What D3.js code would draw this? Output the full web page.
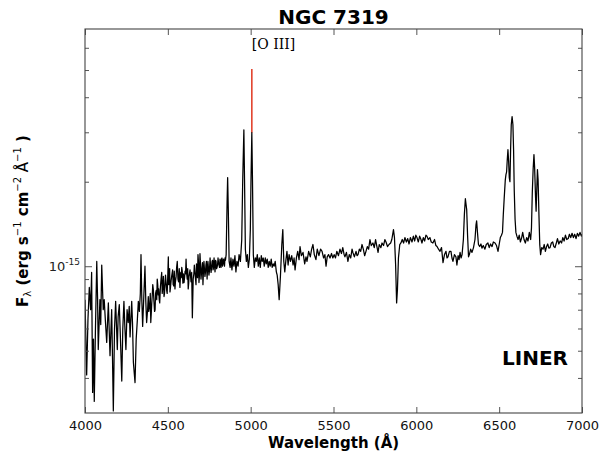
<!DOCTYPE html>
<html><head><meta charset="utf-8">
<script src="https://cdn.jsdelivr.net/npm/d3@7"></script>
<style>body{margin:0;background:#fff} svg{display:block}</style>
</head><body>
<svg id="chart" width="600" height="455"></svg>
<script>
// ---------- data ----------
const FLUX_UNIT = 1e-16;            // flux values below are in units of 1e-16 erg/s/cm^2/Å
const title = "NGC 7319";
const classLabel = "LINER";
// [wavelength (Å), flux (1e-16)]
const spectrum = [
[4000,7.6],[4005,5.6],[4010,4.1],[4018,6.5],[4026,8.4],[4034,7.0],[4040,9.5],[4046,3.55],[4051,5.5],[4056,3.3],
[4063,5.95],[4071,10.4],[4076,7.6],[4080,5.05],[4090,7.6],[4095,6.2],[4101,10.1],[4110,7.0],[4116,7.6],[4123,6.4],
[4131,5.35],[4141,7.4],[4151,4.8],[4161,7.0],[4166,4.7],[4171,3.05],[4178,5.95],[4185,7.5],[4195,5.05],[4200,6.6],
[4207,7.3],[4214,5.5],[4222,3.9],[4228,5.95],[4235,7.5],[4241,6.0],[4247,5.05],[4254,7.0],[4261,6.3],[4267,7.2],
[4272,5.6],[4282,7.5],[4287,6.2],[4292,4.55],[4302,3.85],[4309,5.5],[4316,6.45],[4322,7.5],[4328,6.9],[4334,8.0],
[4338,11.0],[4343,7.6],[4348,6.1],[4355,7.8],[4362,10.0],[4367,7.5],[4372,6.3],[4378,7.0],[4382,7.8],[4390,7.2],
[4397,6.3],[4403,7.4],[4409,8.6],[4416,7.5],[4423,7.0],[4430,8.2],[4436,9.0],[4442,7.9],[4448,7.6],[4455,8.4],
[4463,9.5],[4470,8.5],[4477,7.8],[4483,8.7],[4489,8.8],[4496,8.0],[4503,10.8],[4508,9.0],[4513,8.1],[4520,8.9],
[4529,9.7],[4536,8.5],[4543,8.3],[4550,9.2],[4557,10.4],[4565,8.8],[4573,8.4],[4578,9.5],[4584,9.9],[4591,8.7],
[4598,8.75],[4604,9.6],[4610,10.6],[4617,9.0],[4623,8.3],[4628,9.2],[4634,9.7],[4640,8.8],[4648,6.55],[4653,9.0],
[4660,10.1],[4670,8.6],[4676,9.7],[4682,11.0],[4688,8.75],[4694,11.1],[4700,9.0],[4706,9.9],[4712,8.6],[4718,10.4],
[4724,9.2],[4730,10.1],[4737,9.0],[4742,10.4],[4748,9.3],[4755,10.7],[4761,9.5],[4767,10.4],[4773,9.7],[4779,10.7],
[4785,9.55],[4791,10.4],[4797,9.9],[4803,10.7],[4809,10.1],[4815,10.6],[4821,9.9],[4827,10.7],[4833,10.2],[4839,10.4],
[4845,10.7],[4852,11.0],[4858,17.3],[4861,20.7],[4865,15.9],[4870,10.4],[4876,9.9],[4881,10.7],[4887,9.7],[4893,10.6],
[4899,10.0],[4905,10.9],[4911,9.55],[4917,10.4],[4924,10.0],[4930,11.0],[4938,10.4],[4946,12.4],[4952,20.3],[4959,30.6],
[4963,20.3],[4968,11.5],[4974,10.4],[4980,11.0],[4986,9.9],[4992,10.6],[4998,13.5],[5002,20.3],[5007,29.9],[5011,20.3],
[5016,11.0],[5022,9.9],[5028,10.7],[5034,10.4],[5040,11.0],[5046,10.0],[5052,10.7],[5058,9.9],[5064,10.9],[5070,10.4],
[5076,10.7],[5082,10.0],[5088,10.7],[5094,10.2],[5100,10.6],[5106,9.9],[5112,10.4],[5118,10.0],[5124,10.6],[5130,9.9],
[5136,10.2],[5142,10.0],[5148,10.4],[5155,9.55],[5160,9.3],[5166,8.6],[5172,7.6],[5180,9.3],[5188,11.95],[5194,13.5],
[5200,10.4],[5206,9.55],[5213,10.56],[5219,11.3],[5226,10.1],[5232,11.0],[5240,10.4],[5248,10.9],[5256,10.1],[5262,10.7],
[5268,9.7],[5276,10.7],[5284,11.3],[5292,10.56],[5298,11.75],[5306,10.9],[5316,11.2],[5326,10.2],[5334,10.8],[5340,10.4],
[5350,11.3],[5360,10.8],[5368,11.5],[5376,11.95],[5384,11.0],[5394,10.56],[5402,11.5],[5412,10.9],[5422,11.5],[5431,11.3],
[5440,10.7],[5448,11.0],[5455,10.0],[5462,10.8],[5470,11.0],[5479,10.7],[5488,11.1],[5496,10.7],[5504,11.0],[5512,10.7],
[5520,11.3],[5530,10.9],[5539,11.5],[5548,11.1],[5556,11.65],[5564,11.0],[5569,10.8],[5578,11.2],[5587,10.4],[5595,11.0],
[5604,10.7],[5612,11.5],[5617,11.2],[5626,10.8],[5636,11.3],[5642,10.9],[5648,11.0],[5656,11.5],[5664,11.3],[5672,11.95],
[5680,11.5],[5688,10.9],[5696,11.3],[5704,11.75],[5712,11.5],[5720,12.45],[5728,11.85],[5738,12.1],[5746,11.65],[5754,12.45],
[5762,11.75],[5769,11.2],[5776,11.95],[5786,11.65],[5793,12.1],[5802,11.85],[5810,12.45],[5817,12.2],[5826,11.75],[5835,11.95],
[5845,12.1],[5852,12.45],[5862,13.5],[5868,12.65],[5875,10.1],[5881,7.4],[5886,8.26],[5892,10.7],[5900,11.95],[5907,12.1],
[5915,12.45],[5923,12.1],[5931,12.65],[5940,12.2],[5948,12.55],[5956,12.0],[5964,12.65],[5974,12.2],[5982,12.8],[5990,12.3],
[5997,12.9],[6004,12.65],[6012,12.2],[6020,12.8],[6028,12.45],[6034,12.1],[6042,12.65],[6050,12.3],[6058,12.9],[6064,12.8],
[6072,12.45],[6082,12.65],[6090,12.2],[6100,12.1],[6110,12.45],[6118,11.85],[6125,11.75],[6134,11.5],[6143,11.3],[6152,11.65],
[6161,10.3],[6170,11.0],[6179,11.3],[6185,10.7],[6191,10.8],[6200,11.3],[6209,11.3],[6215,10.7],[6221,10.4],[6230,11.0],
[6239,10.8],[6245,10.1],[6252,10.9],[6258,10.56],[6264,11.2],[6270,10.7],[6276,11.0],[6284,12.45],[6290,15.3],[6296,17.4],
[6300,16.6],[6304,15.9],[6309,13.0],[6315,10.8],[6320,11.0],[6328,11.5],[6336,11.2],[6345,11.65],[6354,12.45],[6360,14.0],
[6364,14.5],[6369,13.2],[6375,11.95],[6382,11.75],[6390,12.0],[6396,11.6],[6404,11.85],[6414,11.5],[6422,11.95],[6432,12.1],
[6440,11.65],[6448,12.0],[6457,11.75],[6465,12.2],[6475,12.1],[6484,11.85],[6493,11.3],[6500,11.95],[6507,12.65],[6514,12.9],
[6520,13.2],[6525,15.3],[6530,17.3],[6537,20.3],[6541,21.2],[6545,21.7],[6549,24.0],[6553,26.0],[6557,23.7],[6561,20.7],
[6565,20.0],[6569,26.0],[6573,31.9],[6578,34.1],[6583,31.9],[6587,26.0],[6591,18.7],[6596,14.7],[6601,13.2],[6607,12.8],
[6614,12.45],[6621,12.9],[6628,12.2],[6636,12.65],[6642,13.2],[6650,12.45],[6658,12.1],[6666,12.65],[6674,12.3],[6682,13.2],
[6690,12.45],[6695,13.7],[6700,18.3],[6705,22.1],[6710,25.0],[6714,22.5],[6719,18.0],[6723,15.7],[6727,18.7],[6731,22.1],
[6735,20.3],[6740,15.3],[6745,11.95],[6750,11.0],[6757,11.65],[6765,11.5],[6772,11.95],[6779,11.3],[6786,11.75],[6793,12.0],
[6800,11.6],[6807,11.65],[6815,12.1],[6823,12.2],[6830,11.75],[6837,11.65],[6845,12.1],[6852,12.55],[6860,12.0],[6868,12.3],
[6877,12.1],[6884,12.65],[6892,12.3],[6900,12.9],[6908,12.45],[6917,12.55],[6924,13.0],[6932,12.65],[6940,13.1],[6948,12.65],
[6956,13.0],[6964,12.55],[6972,13.1],[6980,12.8],[6988,13.2],[6996,12.8],[7000,13.0]
];
// extra fine-scale readings in the noisy blue continuum (merged with the above by wavelength)
const spectrumFine = [
[4385,6.9],[4394,8.0],[4400,6.8],[4406,7.9],[4413,8.2],[4420,6.9],[4426,8.0],[4433,7.6],[4439,8.6],[4445,8.3],
[4451,7.4],[4459,9.0],[4466,8.0],[4473,9.2],[4480,8.0],[4486,9.3],[4493,8.2],[4500,9.4],[4505,8.6],[4511,9.8],
[4516,8.4],[4524,9.3],[4532,8.6],[4539,9.6],[4546,8.8],[4553,9.9],[4561,9.0],[4569,9.8],[4575,8.9],[4581,9.1],
[4587,9.6],[4594,9.4],[4601,9.1],[4607,9.4],[4613,9.5],[4620,9.8],[4626,8.7],[4644,9.5],[4657,9.4],[4665,9.3],
[4673,10.2],[4679,9.1],[4685,10.3],[4691,9.3],[4697,10.2],[4703,9.4],[4709,10.3],[4715,9.6],[4721,9.8],[4727,9.5],
[4733,10.4],[4739,9.6],[4745,9.9],[4751,9.6],[4758,10.0],[4764,9.9],[4770,10.5],[4776,9.9],[4782,10.0],[4788,10.5],
[4794,9.8],[4800,10.1],[4806,10.3],[4812,9.9],[4818,10.2],[4824,10.6],[4830,10.0],[4836,10.6],[4842,10.0],[4848,10.5]
];
const markerLambda = 5007;
const markerFlux = [29.9, 50.4];   // 1e-16 units: red segment of [O III] 5007
const markerLabel = "[O III]";
const xTicks = [4000, 4500, 5000, 5500, 6000, 6500, 7000];
const yMajorTicks = [1e-15];
const yMinorTicks = [4e-16, 5e-16, 6e-16, 7e-16, 8e-16, 9e-16, 2e-15, 3e-15, 4e-15, 5e-15, 6e-15];
const xDomain = [4000, 7000];
const yDomain = [3e-16, 7e-15];

// ---------- layout ----------
const W = 600, H = 455;
const m = {left: 85, right: 18, top: 29, bottom: 42};
const iw = W - m.left - m.right, ih = H - m.top - m.bottom;
const svg = d3.select("#chart");
const font = "'DejaVu Sans', 'Bitstream Vera Sans', sans-serif";

const x = d3.scaleLinear().domain(xDomain).range([m.left, m.left + iw]);
const y = d3.scaleLog().domain(yDomain).range([m.top + ih, m.top]);

const specData = d3.sort(spectrum.concat(spectrumFine), d => d[0]);

svg.append("defs").append("clipPath").attr("id", "clip")
  .append("rect").attr("x", m.left).attr("y", m.top).attr("width", iw).attr("height", ih);

// [O III] marker (under the spectrum)
svg.append("line")
  .attr("x1", x(markerLambda)).attr("x2", x(markerLambda))
  .attr("y1", y(markerFlux[0] * FLUX_UNIT)).attr("y2", y(markerFlux[1] * FLUX_UNIT))
  .attr("stroke", "#e2432e").attr("stroke-width", 1.6);

// spectrum
const line = d3.line().x(d => x(d[0])).y(d => y(d[1] * FLUX_UNIT));
svg.append("path").datum(specData)
  .attr("clip-path", "url(#clip)")
  .attr("d", line).attr("fill", "none")
  .attr("stroke", "#000").attr("stroke-width", 1.25).attr("stroke-linejoin", "round");

// axes
const tickColor = "#555";
function styleAxis(g) {
  g.select(".domain").remove();
  g.selectAll(".tick line").attr("stroke", tickColor);
  g.selectAll(".tick text").attr("fill", "#111").style("font-family", font).style("font-size", "13px");
}
svg.append("g").attr("transform", `translate(0,${m.top + ih})`)
  .call(d3.axisBottom(x).tickValues(xTicks).tickSize(-6).tickPadding(8).tickFormat(d3.format("d")))
  .call(styleAxis);
svg.append("g").attr("transform", `translate(0,${m.top})`)
  .call(d3.axisTop(x).tickValues(xTicks).tickSize(-6).tickFormat(""))
  .call(styleAxis);
[[d3.axisLeft, m.left], [d3.axisRight, m.left + iw]].forEach(([ax, tx]) => {
  svg.append("g").attr("transform", `translate(${tx},0)`)
    .call(ax(y).tickValues(yMajorTicks).tickSize(-7).tickFormat("")).call(styleAxis);
  svg.append("g").attr("transform", `translate(${tx},0)`)
    .call(ax(y).tickValues(yMinorTicks).tickSize(-4).tickFormat("")).call(styleAxis);
});

// frame
svg.append("rect").attr("x", m.left).attr("y", m.top).attr("width", iw).attr("height", ih)
  .attr("fill", "none").attr("stroke", "#444").attr("stroke-width", 1.1);

// y major tick label 10^-15
yMajorTicks.forEach(v => {
  const exp = Math.round(Math.log10(v));
  const t = svg.append("text").attr("x", m.left - 5).attr("y", y(v) + 5)
    .attr("text-anchor", "end").style("font-family", font).style("font-size", "13px").attr("fill", "#222");
  t.append("tspan").text("10");
  t.append("tspan").attr("dy", -6).style("font-size", "9px").text(String(exp));
});

// title
svg.append("text").attr("x", m.left + iw / 2).attr("y", 24).attr("text-anchor", "middle")
  .style("font-family", font).style("font-size", "20px").style("font-weight", "bold").text(title);

// x label
svg.append("text").attr("x", m.left + iw / 2).attr("y", 448).attr("text-anchor", "middle")
  .style("font-family", font).style("font-size", "15px").style("font-weight", "bold").text("Wavelength (Å)");

// y label
const yl = svg.append("text").attr("transform", `translate(28,${m.top + ih / 2}) rotate(-90)`)
  .attr("text-anchor", "middle").style("font-family", font).style("font-size", "15px").style("font-weight", "bold");
yl.append("tspan").text("F");
yl.append("tspan").attr("dy", 3).style("font-size", "10px").style("font-weight", "normal").text("λ");
yl.append("tspan").attr("dy", -3).text(" (erg s");
yl.append("tspan").attr("dy", -7).style("font-size", "10px").style("font-weight", "normal").text("−1");
yl.append("tspan").attr("dy", 7).text(" cm");
yl.append("tspan").attr("dy", -7).style("font-size", "10px").style("font-weight", "normal").text("−2");
yl.append("tspan").attr("dy", 7).style("font-weight", "normal").text(" Å");
yl.append("tspan").attr("dy", -7).style("font-size", "10px").style("font-weight", "normal").text("−1");
yl.append("tspan").attr("dy", 7).text(" )");

// [O III] label
svg.append("text").attr("x", x(markerLambda)).attr("y", 49)
  .style("font-family", "'DejaVu Serif', serif").style("font-size", "14px").attr("fill", "#000").text(markerLabel);

// class label
svg.append("text").attr("x", 568).attr("y", 365).attr("text-anchor", "end")
  .style("font-family", font).style("font-size", "20px").style("font-weight", "bold").text(classLabel);
</script>
</body></html>
